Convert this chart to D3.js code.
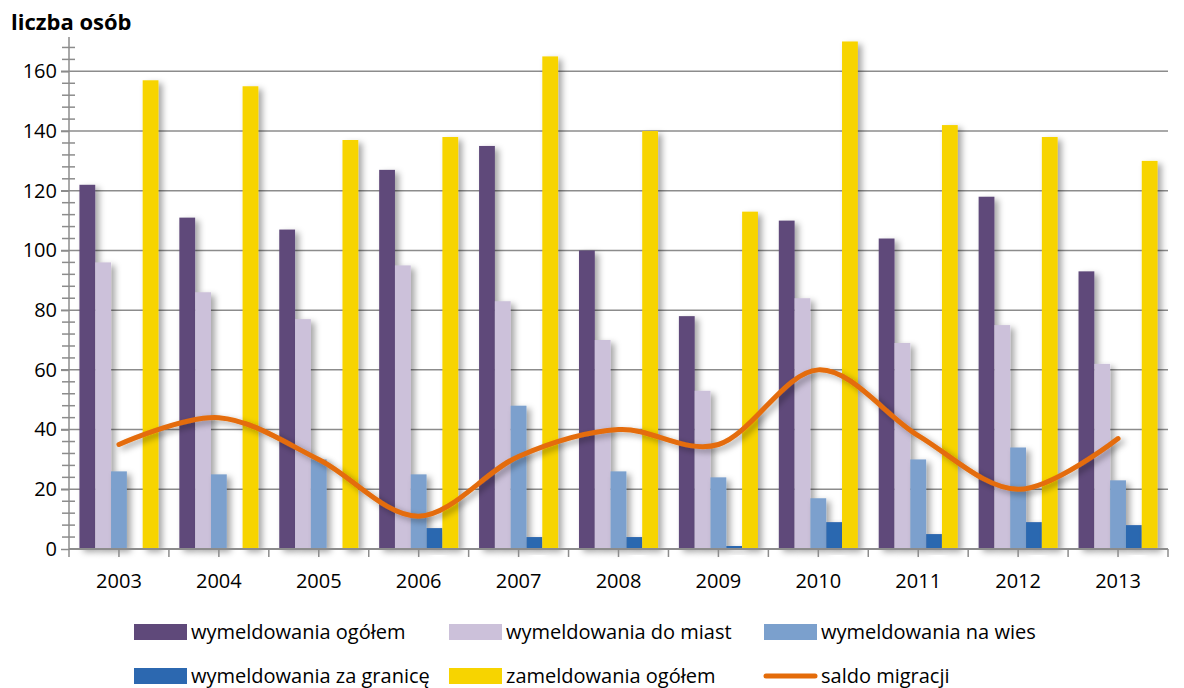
<!DOCTYPE html>
<html>
<head>
<meta charset="utf-8">
<script src="https://cdn.jsdelivr.net/npm/d3@7"></script>
<style>
body { margin: 0; background: #fff; }
svg text { font-family: "Open Sans", Lato, sans-serif; fill: #000; }
</style>
</head>
<body>
<div id="chart"></div>
<script>
var years = ['2003', '2004', '2005', '2006', '2007', '2008', '2009', '2010', '2011', '2012', '2013'];
var wymOgolem = [122, 111, 107, 127, 135, 100, 78, 110, 104, 118, 93];
var wymMiasta = [96, 86, 77, 95, 83, 70, 53, 84, 69, 75, 62];
var wymWies = [26, 25, 30, 25, 48, 26, 24, 17, 30, 34, 23];
var wymGranica = [0, 0, 0, 7, 4, 4, 1, 9, 5, 9, 8];
var zamOgolem = [157, 155, 137, 138, 165, 140, 113, 170, 142, 138, 130];
var saldo = [35, 44, 30, 11, 31, 40, 35, 60, 38, 20, 37];
var yTicks = [0, 20, 40, 60, 80, 100, 120, 140, 160];

var barSeries = [
  {name: 'wymeldowania ogółem', values: wymOgolem, color: '#5f497a'},
  {name: 'wymeldowania do miast', values: wymMiasta, color: '#ccc1da'},
  {name: 'wymeldowania na wies', values: wymWies, color: '#7ba0cd'},
  {name: 'wymeldowania za granicę', values: wymGranica, color: '#2c68b0'},
  {name: 'zameldowania ogółem', values: zamOgolem, color: '#f7d400'}
];
var lineSeries = {name: 'saldo migracji', values: saldo, color: '#e46c0a'};

var width = 1184, height = 688;
var plotLeft = 69, plotRight = 1168, plotTop = 37, plotBottom = 549;
var axisColor = '#8c8c8c';

var svg = d3.select('#chart').append('svg')
    .attr('width', width)
    .attr('height', height);

var defs = svg.append('defs');
var shadow = defs.append('filter').attr('id', 'shadow')
    .attr('x', '-20%').attr('y', '-10%').attr('width', '180%').attr('height', '130%');
shadow.append('feDropShadow')
    .attr('dx', 4).attr('dy', 3).attr('stdDeviation', 3)
    .attr('flood-color', '#000').attr('flood-opacity', 0.35);

var x = d3.scaleBand().domain(years).range([plotLeft, plotRight]);
var xInner = d3.scaleBand().domain(d3.range(barSeries.length))
    .range([0, x.bandwidth()]).paddingOuter(0.66);
var y = d3.scaleLinear().domain([0, 171.5]).range([plotBottom, plotTop]);

// gridlines
svg.append('g').selectAll('line')
    .data(yTicks.filter(function (d) { return d > 0; }))
    .enter().append('line')
    .attr('x1', plotLeft - 8).attr('x2', plotRight)
    .attr('y1', function (d) { return y(d); })
    .attr('y2', function (d) { return y(d); })
    .attr('stroke', axisColor).attr('stroke-width', 1.5);

// minor ticks on y axis
svg.append('g').selectAll('line')
    .data(d3.range(4, 172, 4).filter(function (d) { return d % 20 !== 0; }))
    .enter().append('line')
    .attr('x1', plotLeft - 7).attr('x2', plotLeft + 6)
    .attr('y1', function (d) { return y(d); })
    .attr('y2', function (d) { return y(d); })
    .attr('stroke', axisColor).attr('stroke-width', 1.5);

// y axis
var yAxis = svg.append('g')
    .attr('transform', 'translate(' + plotLeft + ',0)')
    .call(d3.axisLeft(y).tickValues(yTicks).tickSize(8).tickPadding(4));
yAxis.select('.domain').attr('stroke', axisColor).attr('stroke-width', 1.5)
    .attr('d', 'M0,' + plotTop + 'V' + plotBottom);
yAxis.selectAll('.tick line').attr('stroke', axisColor).attr('stroke-width', 1.5);
yAxis.selectAll('.tick text').attr('font-size', '20px')
    .style('font-family', '"Open Sans", Lato, sans-serif').attr('fill', '#000');

// bars
var groups = svg.append('g').selectAll('g')
    .data(barSeries).enter().append('g')
    .attr('filter', 'url(#shadow)');

groups.selectAll('rect')
    .data(function (s, i) {
        return s.values.map(function (v, j) { return {year: years[j], value: v, idx: i, color: s.color}; });
    })
    .enter().append('rect')
    .attr('x', function (d) { return x(d.year) + xInner(d.idx); })
    .attr('width', xInner.bandwidth())
    .attr('y', function (d) { return y(d.value); })
    .attr('height', function (d) { return plotBottom - y(d.value); })
    .attr('fill', function (d) { return d.color; });

// x axis, ticks at every half category
var halfTicks = [];
years.forEach(function (yr) {
    halfTicks.push(x(yr));
    halfTicks.push(x(yr) + x.bandwidth() / 2);
});
halfTicks.push(plotRight);
svg.append('line')
    .attr('x1', plotLeft).attr('x2', plotRight)
    .attr('y1', plotBottom).attr('y2', plotBottom)
    .attr('stroke', axisColor).attr('stroke-width', 2);
svg.append('g').selectAll('line')
    .data(halfTicks).enter().append('line')
    .attr('x1', function (d) { return d; }).attr('x2', function (d) { return d; })
    .attr('y1', plotBottom).attr('y2', plotBottom + 8)
    .attr('stroke', axisColor).attr('stroke-width', 1.5);
svg.append('g').selectAll('text')
    .data(years).enter().append('text')
    .attr('x', function (d) { return x(d) + x.bandwidth() / 2; })
    .attr('y', 588)
    .attr('text-anchor', 'middle')
    .attr('font-size', '20px')
    .text(function (d) { return d; });

// saldo line
var line = d3.line()
    .x(function (d, i) { return x(years[i]) + x.bandwidth() / 2; })
    .y(function (d) { return y(d); })
    .curve(d3.curveCardinal.tension(0));
svg.append('path')
    .datum(lineSeries.values)
    .attr('d', line)
    .attr('fill', 'none')
    .attr('stroke', lineSeries.color)
    .attr('stroke-width', 5)
    .attr('stroke-linecap', 'round')
    .attr('filter', 'url(#shadow)');

// axis title
svg.append('text')
    .attr('x', 11).attr('y', 30)
    .attr('font-size', '22px').attr('font-weight', 'bold')
    .text('liczba osób');

// legend
var legendItems = barSeries.map(function (s) { return {name: s.name, color: s.color, type: 'bar'}; });
legendItems.push({name: lineSeries.name, color: lineSeries.color, type: 'line'});
var legendX = [134, 449, 764];
var legendY = [632, 676];

var leg = svg.append('g').selectAll('g')
    .data(legendItems).enter().append('g')
    .attr('transform', function (d, i) {
        return 'translate(' + legendX[i % 3] + ',' + legendY[Math.floor(i / 3)] + ')';
    });
leg.filter(function (d) { return d.type === 'bar'; })
    .append('rect')
    .attr('x', 0).attr('y', -8).attr('width', 53).attr('height', 16)
    .attr('fill', function (d) { return d.color; });
leg.filter(function (d) { return d.type === 'line'; })
    .append('line')
    .attr('x1', 2).attr('x2', 51).attr('y1', 0).attr('y2', 0)
    .attr('stroke', function (d) { return d.color; })
    .attr('stroke-width', 5).attr('stroke-linecap', 'round');
leg.append('text')
    .attr('x', 57).attr('y', 7)
    .attr('font-size', '20px')
    .text(function (d) { return d.name; });
</script>
</body>
</html>
